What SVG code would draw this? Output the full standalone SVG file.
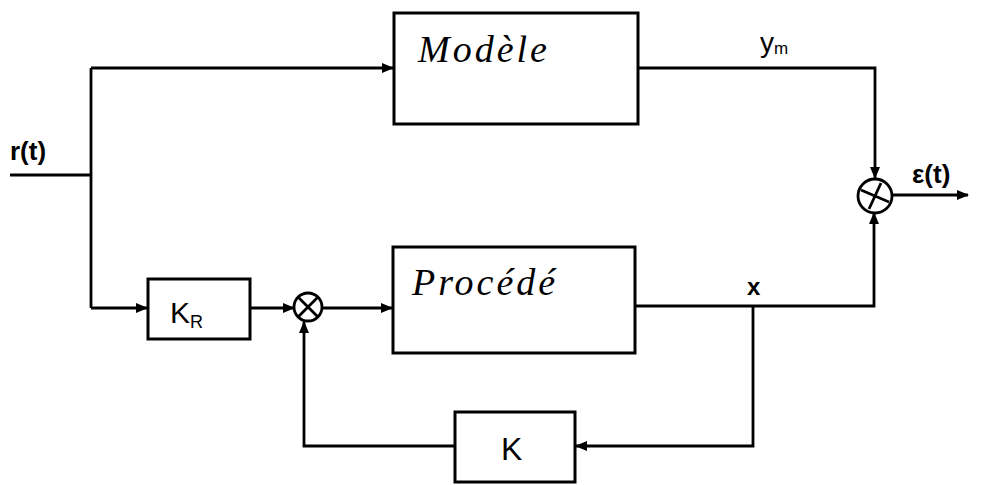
<svg xmlns="http://www.w3.org/2000/svg" width="986" height="485" viewBox="0 0 986 485">
<style>
.ln{fill:none;stroke:#000;stroke-width:2.8}
.bx{fill:#fff;stroke:#000;stroke-width:3}
.hw{font-family:"Liberation Serif",serif;font-style:italic;fill:#000}
.lb{font-family:"Liberation Sans",sans-serif;fill:#000}
</style>
<defs>
<marker id="ah" viewBox="0 0 12 10" refX="11" refY="5" markerWidth="12" markerHeight="10" markerUnits="userSpaceOnUse" orient="auto">
<path d="M0,0 L12,5 L0,10 Z" fill="#000"/>
</marker>
</defs>
<rect width="986" height="485" fill="#fff"/>
<g id="connectors">
<path class="ln" d="M10,175 H91"/>
<path class="ln" d="M91,68 V308"/>
<path class="ln" d="M91,68 H393" marker-end="url(#ah)"/>
<path class="ln" d="M91,308 H147" marker-end="url(#ah)"/>
<path class="ln" d="M250,308 H294" marker-end="url(#ah)"/>
<path class="ln" d="M323,308 H392" marker-end="url(#ah)"/>
<path class="ln" d="M638,68 H875 V178" marker-end="url(#ah)"/>
<path class="ln" d="M635,306 H874 V213" marker-end="url(#ah)"/>
<path class="ln" d="M892,195 H968" marker-end="url(#ah)"/>
<path class="ln" d="M753,306 V446 H576" marker-end="url(#ah)"/>
<path class="ln" d="M455,446 H304 V322" marker-end="url(#ah)"/>
</g>
<g id="model">
<rect class="bx" x="394" y="13" width="244" height="111"/>
<text class="hw" x="418" y="62" font-size="38" letter-spacing="3">Modèle</text>
</g>
<g id="process">
<rect class="bx" x="393" y="247" width="242" height="106"/>
<text class="hw" x="412" y="295" font-size="38" letter-spacing="3">Procédé</text>
</g>
<g id="kr">
<rect class="bx" x="148" y="279" width="102" height="60"/>
<text class="lb" x="170" y="323" font-size="30">K<tspan font-size="18" dy="5">R</tspan></text>
</g>
<g id="k">
<rect class="bx" x="455" y="412" width="120" height="70"/>
<text class="lb" x="501" y="460" font-size="32">K</text>
</g>
<g id="sum1">
<circle class="ln" cx="308" cy="307" r="14"/>
<path class="ln" d="M298,297 L318,317 M318,297 L298,317"/>
</g>
<g id="sum2">
<circle class="ln" cx="875" cy="196" r="17"/>
<path class="ln" d="M861,190 L889,202 M881,183 L869,209"/>
</g>
<g id="labels">
<text class="lb" x="10" y="160" font-size="26" font-weight="bold">r(t)</text>
<text class="lb" x="760" y="52" font-size="28">y<tspan font-size="17" dy="2">m</tspan></text>
<text class="lb" x="912" y="183" font-size="26" font-weight="bold">ε(t)</text>
<text class="lb" x="747" y="295" font-size="24" font-weight="bold">x</text>
</g>
</svg>
